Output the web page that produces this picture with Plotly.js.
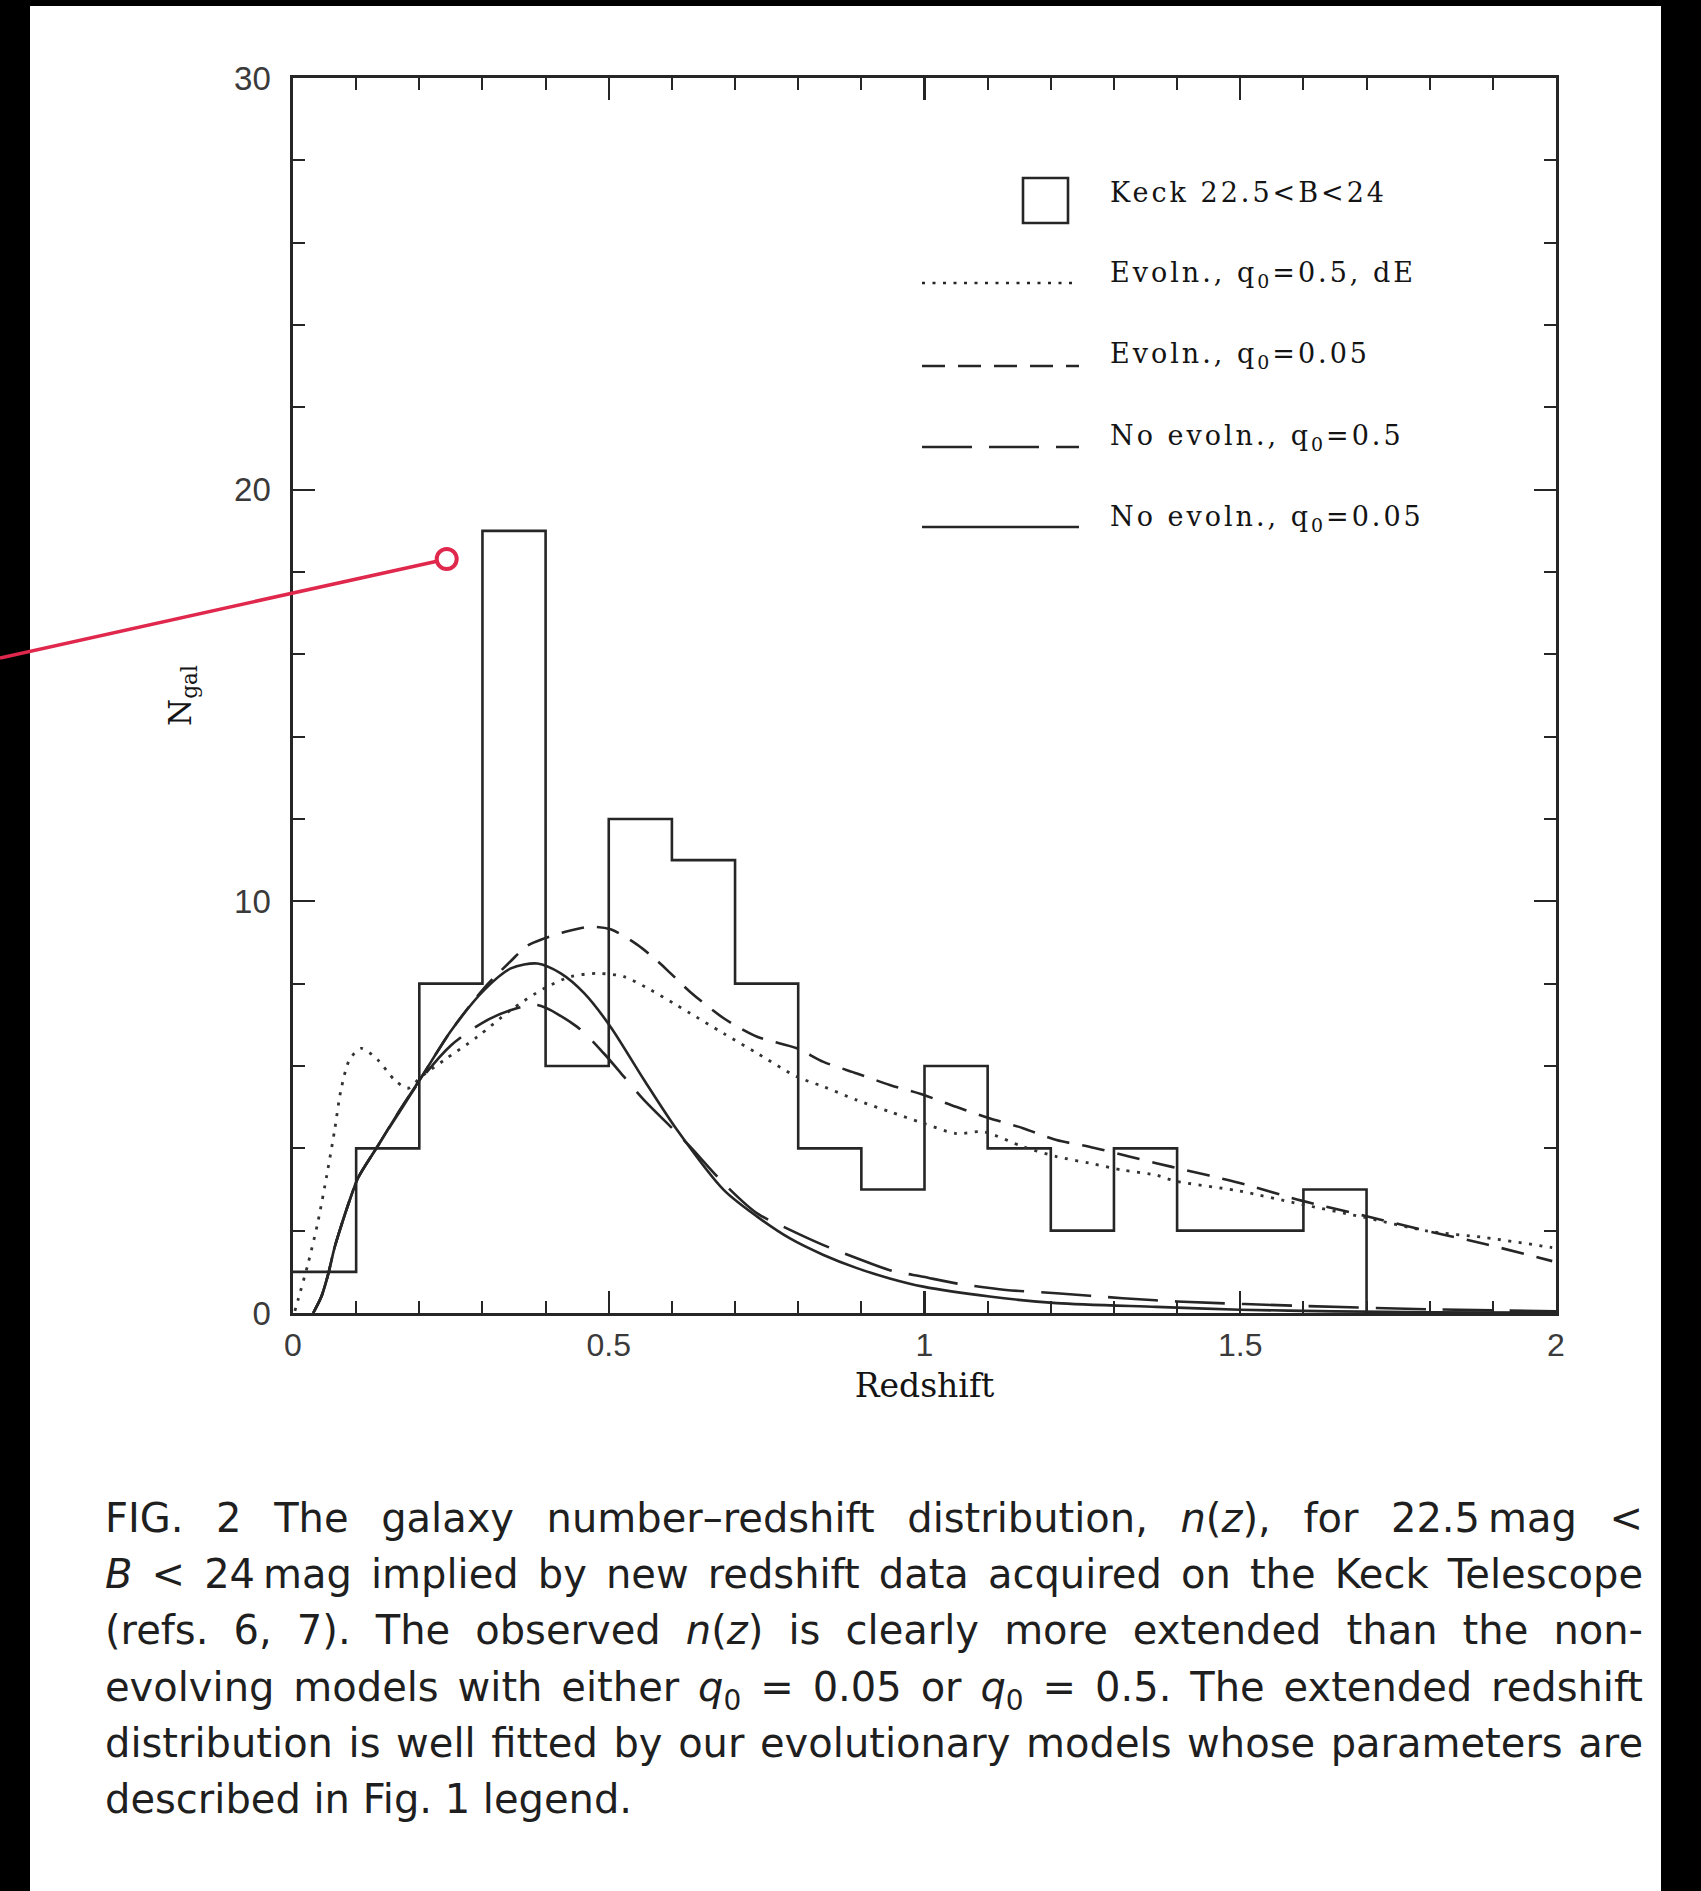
<!DOCTYPE html>
<html>
<head>
<meta charset="utf-8">
<script src="https://cdn.plot.ly/plotly-3.0.1.min.js"></script>
<style>
  html, body { margin: 0; padding: 0; background: #fff; }
  #wrap { position: relative; width: 1701px; height: 1891px; overflow: hidden; }
  #chart { position: absolute; left: 0; top: 0; width: 1701px; height: 1891px; }
  #caption {
    position: absolute; left: 105px; top: 1490px; width: 1538px;
    font-family: "DejaVu Sans", sans-serif; font-size: 40px; line-height: 56.2px;
    color: #1f1f1f;
  }
  #caption div { text-align: justify; text-align-last: justify; font-size: 40px; }
  #caption div.last { text-align-last: left; }
  #caption i { font-size: 40px; }
  #caption sub { font-size: 28px; line-height: 0; }
</style>
</head>
<body>
<div id="wrap">
  <div id="chart"></div>
  <div id="caption">
    <div>FIG. 2 The galaxy number–redshift distribution, <i>n</i>(<i>z</i>), for 22.5&#8201;mag &lt;</div>
    <div><i>B</i> &lt; 24&#8201;mag implied by new redshift data acquired on the Keck Telescope</div>
    <div>(refs. 6, 7). The observed <i>n</i>(<i>z</i>) is clearly more extended than the non-</div>
    <div>evolving models with either <i>q</i><sub>0</sub> = 0.05 or <i>q</i><sub>0</sub> = 0.5. The extended redshift</div>
    <div>distribution is well fitted by our evolutionary models whose parameters are</div>
    <div class="last">described in Fig. 1 legend.</div>
  </div>
</div>
<script>
// Observed counts (Keck, 22.5 < B < 24) in redshift bins of width 0.1
const binLeft = [0.0, 0.1, 0.2, 0.3, 0.4, 0.5, 0.6, 0.7, 0.8, 0.9, 1.0, 1.1, 1.2, 1.3, 1.4, 1.5, 1.6];
const binWidth = 0.1;
const galaxyCounts = [1, 4, 8, 19, 6, 12, 11, 8, 4, 3, 6, 4, 2, 4, 2, 2, 3];

// Model n(z): evolving, q0 = 0.5 with dwarf ellipticals (dotted)
const evolDE_z = [0.003, 0.008, 0.024, 0.039, 0.055, 0.066, 0.076, 0.0895, 0.108, 0.134, 0.161, 0.182, 0.203, 0.24, 0.292, 0.345, 0.398, 0.44, 0.482, 0.524, 0.566, 0.603, 0.629, 0.682, 0.735, 0.798, 0.84, 0.893, 0.945, 0.998, 1.05, 1.093, 1.156, 1.209, 1.261, 1.314, 1.367, 1.396, 1.496, 1.597, 1.697, 1.797, 1.889, 1.994];
const evolDE_n = [0.05, 0.32, 1.21, 2.18, 3.47, 4.45, 5.42, 6.15, 6.43, 6.15, 5.66, 5.46, 5.74, 6.15, 6.71, 7.36, 7.89, 8.17, 8.25, 8.17, 7.85, 7.52, 7.28, 6.79, 6.31, 5.74, 5.50, 5.17, 4.89, 4.61, 4.36, 4.40, 4.04, 3.80, 3.64, 3.47, 3.35, 3.21, 2.97, 2.64, 2.32, 1.99, 1.83, 1.59];

// Model n(z): evolving, q0 = 0.05 (short dashes)
const evol005_z = [0.032, 0.045, 0.055, 0.066, 0.077, 0.09, 0.103, 0.134, 0.166, 0.203, 0.25, 0.303, 0.345, 0.371, 0.398, 0.429, 0.47, 0.503, 0.545, 0.577, 0.598, 0.629, 0.682, 0.735, 0.798, 0.84, 0.893, 0.945, 0.998, 1.05, 1.103, 1.156, 1.209, 1.261, 1.324, 1.367, 1.397, 1.496, 1.597, 1.697, 1.797, 1.889, 1.994];
const evol005_n = [0, 0.4, 0.9, 1.6, 2.15, 2.75, 3.28, 4.05, 4.85, 5.72, 6.85, 7.9, 8.55, 8.92, 9.1, 9.25, 9.38, 9.32, 8.95, 8.55, 8.25, 7.8, 7.16, 6.71, 6.43, 6.10, 5.82, 5.54, 5.30, 5.01, 4.73, 4.49, 4.20, 4.04, 3.80, 3.64, 3.53, 3.17, 2.73, 2.36, 1.99, 1.67, 1.26];

// Model n(z): no evolution, q0 = 0.5 (long dashes)
const noEvol05_z = [0.032, 0.045, 0.055, 0.066, 0.077, 0.09, 0.103, 0.134, 0.166, 0.203, 0.25, 0.3, 0.345, 0.387, 0.45, 0.492, 0.524, 0.556, 0.603, 0.629, 0.682, 0.735, 0.787, 0.84, 0.893, 0.945, 0.998, 1.05, 1.129, 1.209, 1.314, 1.4, 1.6, 1.8, 2.0];
const noEvol05_n = [0, 0.4, 0.9, 1.6, 2.15, 2.75, 3.28, 4.05, 4.82, 5.68, 6.5, 7.05, 7.36, 7.48, 6.95, 6.31, 5.74, 5.17, 4.45, 4.04, 3.15, 2.42, 2.02, 1.65, 1.33, 1.04, 0.88, 0.72, 0.56, 0.48, 0.36, 0.28, 0.17, 0.09, 0.04];

// Model n(z): no evolution, q0 = 0.05 (solid)
const noEvol005_z = [0.032, 0.045, 0.055, 0.066, 0.077, 0.09, 0.103, 0.134, 0.166, 0.203, 0.25, 0.303, 0.345, 0.387, 0.424, 0.461, 0.503, 0.556, 0.608, 0.682, 0.735, 0.787, 0.84, 0.893, 0.945, 0.998, 1.103, 1.209, 1.367, 1.5, 1.65, 1.8, 2.0];
const noEvol005_n = [0, 0.4, 0.9, 1.6, 2.15, 2.75, 3.28, 4.05, 4.85, 5.72, 6.85, 7.85, 8.37, 8.49, 8.25, 7.77, 6.95, 5.66, 4.45, 2.99, 2.34, 1.81, 1.41, 1.09, 0.84, 0.64, 0.40, 0.24, 0.15, 0.08, 0.04, 0.02, 0.01];

// Legend entries, top to bottom
const legendLabels = [
  'Keck 22.5&lt;B&lt;24',
  'Evoln., q<sub>0</sub>=0.5, dE',
  'Evoln., q<sub>0</sub>=0.05',
  'No evoln., q<sub>0</sub>=0.5',
  'No evoln., q<sub>0</sub>=0.05'
];

const ink = '#262626';

// step outline of the histogram
const histX = binLeft.concat([binLeft[binLeft.length - 1] + binWidth]);
const histY = galaxyCounts.concat([0]);

const traces = [
  { x: histX, y: histY, type: 'scatter', mode: 'lines', line: { shape: 'hv', color: ink, width: 2.6 }, showlegend: false, hoverinfo: 'skip' },
  { x: evolDE_z, y: evolDE_n, type: 'scatter', mode: 'lines', line: { shape: 'spline', smoothing: 0.8, color: '#333', width: 2.8, dash: '3px,7.5px' }, showlegend: false },
  { x: evol005_z, y: evol005_n, type: 'scatter', mode: 'lines', line: { shape: 'spline', smoothing: 0.8, color: ink, width: 2.6, dash: '23px,13px' }, showlegend: false },
  { x: noEvol05_z, y: noEvol05_n, type: 'scatter', mode: 'lines', line: { shape: 'spline', smoothing: 0.8, color: ink, width: 2.6, dash: '50px,17px' }, showlegend: false },
  { x: noEvol005_z, y: noEvol005_n, type: 'scatter', mode: 'lines', line: { shape: 'spline', smoothing: 0.8, color: ink, width: 2.6 }, showlegend: false }
];

// plot frame in page pixels
const L = 293, R = 1556, T = 78, B = 1313;
const px = v => (v - L) / (R - L);
const py = v => (B - v) / (B - T);

const shapes = [];
// dark scan border
shapes.push({ type: 'rect', xref: 'paper', yref: 'paper', x0: px(0), x1: px(30), y0: py(1891), y1: py(0), fillcolor: '#000', line: { width: 0 }, layer: 'above' });
shapes.push({ type: 'rect', xref: 'paper', yref: 'paper', x0: px(0), x1: px(1701), y0: py(6), y1: py(0), fillcolor: '#000', line: { width: 0 }, layer: 'above' });
shapes.push({ type: 'rect', xref: 'paper', yref: 'paper', x0: px(1661), x1: px(1701), y0: py(1891), y1: py(0), fillcolor: '#000', line: { width: 0 }, layer: 'above' });

// legend keys
shapes.push({ type: 'rect', xref: 'paper', yref: 'paper', x0: px(1023), x1: px(1068), y0: py(223), y1: py(178), line: { color: ink, width: 2.6 }, fillcolor: 'rgba(0,0,0,0)' });
const keyRows = [283, 366, 447, 527];
const keyDash = ['3px,7.5px', '23px,13px', '50px,17px', 'solid'];
keyRows.forEach((yy, i) => {
  shapes.push({ type: 'line', xref: 'paper', yref: 'paper', x0: px(922), x1: px(1079), y0: py(yy), y1: py(yy), line: { color: ink, width: 2.6, dash: keyDash[i] } });
});

// red pointer
const cx = 446.7, cy = 559, rr = 10;
const ang = Math.atan2(658 - cy, 0 - cx);
shapes.push({ type: 'line', xref: 'paper', yref: 'paper', x0: px(0), y0: py(658), x1: px(cx + rr * Math.cos(ang)), y1: py(cy + rr * Math.sin(ang)), line: { color: '#e0274c', width: 3.6 }, layer: 'above' });
shapes.push({ type: 'circle', xref: 'paper', yref: 'paper', x0: px(cx - rr), x1: px(cx + rr), y0: py(cy + rr), y1: py(cy - rr), line: { color: '#e0274c', width: 4 }, fillcolor: '#ffffff', layer: 'above' });

const legendTextY = [192, 274, 356, 437, 518];
const annotations = legendLabels.map((t, i) => ({
  xref: 'paper', yref: 'paper', x: px(1108), y: py(legendTextY[i]),
  xanchor: 'left', yanchor: 'middle', align: 'left', showarrow: false, text: t,
  font: { family: 'DejaVu Serif, serif', size: 27, color: '#141414' }
}));

const xTickFont = { family: 'Liberation Sans, Arial, sans-serif', size: 32, color: '#3a3a3a' };
const yTickFont = { family: 'Liberation Sans, Arial, sans-serif', size: 33, color: '#3a3a3a' };

const layout = {
  width: 1701, height: 1891,
  margin: { l: L, r: 1701 - R, t: T, b: 1891 - B, pad: 0 },
  paper_bgcolor: '#fff', plot_bgcolor: '#fff',
  showlegend: false,
  xaxis: {
    range: [0, 2], tickmode: 'linear', tick0: 0, dtick: 0.5,
    ticks: 'inside', ticklen: 22, tickwidth: 2.2, tickcolor: ink,
    showline: true, linecolor: ink, linewidth: 2.6, mirror: 'ticks',
    showgrid: false, zeroline: false,
    minor: { tickmode: 'linear', tick0: 0, dtick: 0.1, ticks: 'inside', ticklen: 12, tickwidth: 2, tickcolor: ink, showgrid: false },
    tickfont: xTickFont, ticklabelstandoff: 2,
    title: { text: 'Redshift', font: { family: 'DejaVu Serif, serif', size: 33, color: '#141414' }, standoff: 12 }
  },
  yaxis: {
    range: [0, 30], tickmode: 'linear', tick0: 0, dtick: 10,
    ticks: 'inside', ticklen: 22, tickwidth: 2.2, tickcolor: ink,
    showline: true, linecolor: ink, linewidth: 2.6, mirror: 'ticks',
    showgrid: false, zeroline: false,
    minor: { tickmode: 'linear', tick0: 0, dtick: 2, ticks: 'inside', ticklen: 12, tickwidth: 2, tickcolor: ink, showgrid: false },
    tickfont: yTickFont, ticklabelstandoff: 13,
    title: { text: 'N<sub>gal</sub>', font: { family: 'DejaVu Serif, serif', size: 31, color: '#141414' }, standoff: 34 }
  },
  shapes: shapes,
  annotations: annotations
};

Plotly.newPlot('chart', traces, layout, { staticPlot: true, displayModeBar: false }).then(() => {
  // typewriter-like spacing for the key labels
  document.querySelectorAll('#chart .annotation-text').forEach(el => { el.style.letterSpacing = '3px'; });
});
</script>
</body>
</html>
